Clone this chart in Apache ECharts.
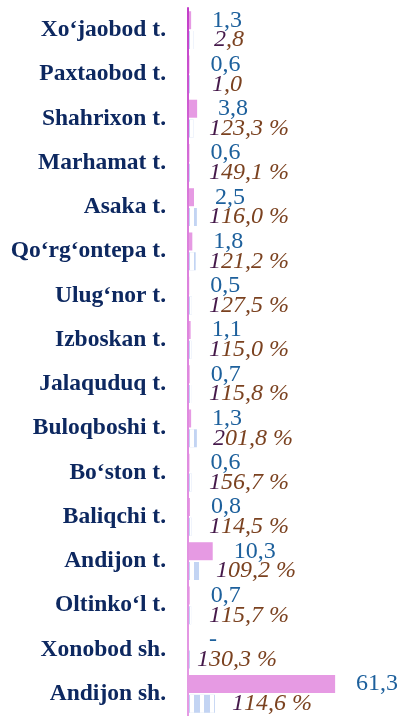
<!DOCTYPE html>
<html>
<head>
<meta charset="utf-8">
<script src="https://cdn.jsdelivr.net/npm/echarts@6/dist/echarts.min.js"></script>
<style>
  html, body { margin: 0; padding: 0; background: #ffffff; }
  #chart { width: 404px; height: 716px; }
</style>
</head>
<body>
<div id="chart"></div>
<script>
// Districts and cities, top to bottom
const categories = [
  "Xo‘jaobod t.", "Paxtaobod t.", "Shahrixon t.", "Marhamat t.",
  "Asaka t.", "Qo‘rg‘ontepa t.", "Ulug‘nor t.", "Izboskan t.",
  "Jalaquduq t.", "Buloqboshi t.", "Bo‘ston t.", "Baliqchi t.",
  "Andijon t.", "Oltinko‘l t.", "Xonobod sh.", "Andijon sh."
];

// Share, % (pink bars)
const shareValues = [1.3, 0.6, 3.8, 0.6, 2.5, 1.8, 0.5, 1.1, 0.7, 1.3, 0.6, 0.8, 10.3, 0.7, 0, 61.3];

// Second bar of each row (light blue)
const secondValues = [2.3, 0.8, 2.3, 0.8, 3.7, 3.2, 1.6, 1.4, 1.3, 3.7, 1.5, 1.5, 4.6, 1.3, 0.8, 11.2];

// Growth rate shown next to the second bar
const growthValues = [2.8, 1.0, 123.3, 149.1, 116.0, 121.2, 127.5, 115.0, 115.8, 201.8, 156.7, 114.5, 109.2, 115.7, 130.3, 114.6];
const growthSuffix = ["", "", " %", " %", " %", " %", " %", " %", " %", " %", " %", " %", " %", " %", " %", " %"];

// Small horizontal nudges for a few growth labels
const growthLabelShift = { 0: 5, 1: 3, 9: 4, 12: 7, 14: -12, 15: 23 };

const fmt = v => v.toFixed(1).replace('.', ',');

const chart = echarts.init(document.getElementById('chart'), null, { renderer: 'canvas' });

const growthFont = { fontFamily: 'Liberation Serif', fontStyle: 'italic', fontSize: 24 };

chart.setOption({
  backgroundColor: '#ffffff',
  animation: false,
  grid: { left: 188, top: 8, width: 219, height: 709, containLabel: false },
  xAxis: {
    type: 'value', min: 0, max: 90,
    show: false
  },
  yAxis: {
    type: 'category',
    data: categories,
    inverse: true,
    z: 5,
    axisTick: { show: false },
    axisLine: {
      show: true,
      lineStyle: {
        width: 2,
        color: new echarts.graphic.LinearGradient(0, 0, 0, 1, [
          { offset: 0, color: '#c23bc8' },
          { offset: 0.3, color: '#dc7fdc' },
          { offset: 1, color: '#e59be4' }
        ])
      }
    },
    axisLabel: {
      margin: 22,
      fontFamily: 'Liberation Serif',
      fontWeight: 'bold',
      fontSize: 23.5,
      color: '#0d2860'
    }
  },
  series: [
    {
      name: 'share',
      type: 'bar',
      data: shareValues,
      barWidth: 18,
      barGap: '10%',
      itemStyle: { color: '#e69ae3' },
      label: {
        show: true,
        position: 'right',
        distance: 21,
        fontFamily: 'Liberation Serif',
        fontSize: 24,
        color: '#1d609c',
        formatter: p => p.value === 0 ? '-' : fmt(p.value)
      }
    },
    {
      name: 'second',
      type: 'bar',
      data: secondValues.map((v, i) => {
        const item = { value: v };
        if (growthLabelShift[i] !== undefined) {
          item.label = { offset: [growthLabelShift[i], 0] };
        }
        return item;
      }),
      barWidth: 18,
      itemStyle: {
        color: '#c3d4f3',
        decal: {
          symbol: 'rect',
          symbolSize: 1,
          symbolKeepAspect: false,
          color: '#ffffff',
          dashArrayX: [[4, 6]],
          dashArrayY: [10, 0],
          rotation: 0
        }
      },
      label: {
        show: true,
        position: [21, '50%'],
        align: 'left',
        verticalAlign: 'middle',
        formatter: p => {
          const s = fmt(growthValues[p.dataIndex]) + growthSuffix[p.dataIndex];
          return '{a|' + s.charAt(0) + '}{b|' + s.slice(1) + '}';
        },
        rich: {
          a: Object.assign({ color: '#45194a' }, growthFont),
          b: Object.assign({ color: '#7b4220' }, growthFont)
        }
      }
    }
  ]
});
</script>
</body>
</html>
